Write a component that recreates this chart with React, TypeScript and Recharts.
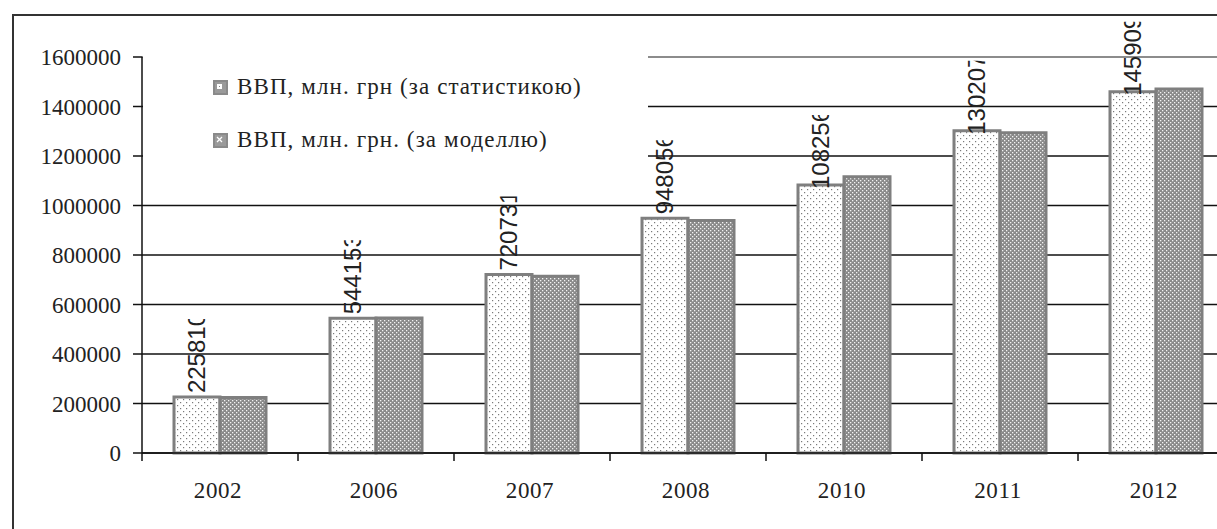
import React from 'react';
import { BarChart, Bar, XAxis, YAxis, CartesianGrid, Legend, LabelList, ReferenceLine } from 'recharts';

// years on the x axis
const years = ['2002', '2006', '2007', '2008', '2010', '2011', '2012'];
// ВВП за статистикою
const statValues = [225810, 544153, 720731, 948056, 1082569, 1302079, 1459096];
// ВВП за моделлю
const modelValues = [224000, 545000, 714000, 939000, 1116000, 1294000, 1471000];
const yTicks = [0, 200000, 400000, 600000, 800000, 1000000, 1200000, 1400000, 1600000];

const statName = 'ВВП, млн. грн (за статистикою)';
const modelName = 'ВВП, млн. грн. (за моделлю)';

const data = years.map((year, i) => ({ year, stat: statValues[i], model: modelValues[i] }));

const W = 1260;
const H = 529;
const LEFT = 142;
const RIGHT = 26;
const BAND = (W - LEFT - RIGHT) / years.length;
const SERIF = '"Liberation Serif", "Times New Roman", serif';

const StatLabel = (props: any) => {
  const { x, y, width, value, index } = props;
  const cx = x + width / 2;
  const digits = String(value).length;
  const y0 = y - 4 + (digits > 6 ? 8 : 0);
  const len = 74;
  const id = `lbl-clip-${index}`;
  return (
    <g clipPath={`url(#${id})`}>
      <defs>
        <clipPath id={id}>
          <rect x={cx - 16} y={y0 - len} width={32} height={len} />
        </clipPath>
      </defs>
      <text
        transform={`translate(${cx + 8},${y0}) rotate(-90)`}
        fontSize={24}
        fontFamily='"Liberation Sans", Arial, sans-serif'
        fill="#222"
      >
        {value}
      </text>
    </g>
  );
};

const YearTick = (props: any) => {
  const { x, y, payload } = props;
  const left = x - BAND / 2;
  return (
    <g>
      <line x1={left} y1={y - 8} x2={left} y2={y} stroke="#111" strokeWidth={1.5} />
      <text x={x - 2} y={y + 37} textAnchor="middle" fontSize={23} letterSpacing={0.6} fontFamily={SERIF} fill="#222">
        {payload.value}
      </text>
    </g>
  );
};

const LegendIcon = ({ fill }: { fill: string }) => (
  <svg width={15} height={15} style={{ display: 'block' }}>
    <rect x={1} y={1} width={13} height={13} fill={fill} stroke="#8a8a8a" strokeWidth={2} />
  </svg>
);

const renderLegend = () => (
  <div style={{ position: 'relative', width: '100%', height: '100%' }}>
    {[
      { name: statName, fill: 'url(#legStat)', top: 39 },
      { name: modelName, fill: 'url(#legModel)', top: 92 },
    ].map((item) => (
      <div
        key={item.name}
        style={{
          position: 'absolute',
          left: 70,
          top: item.top,
          transform: 'translateY(-50%)',
          display: 'flex',
          alignItems: 'center',
          whiteSpace: 'nowrap',
          fontFamily: SERIF,
          fontSize: 23,
          letterSpacing: 1.1,
          color: '#222',
        }}
      >
        <LegendIcon fill={item.fill} />
        <span style={{ marginLeft: 9 }}>{item.name}</span>
      </div>
    ))}
  </div>
);

export default function App() {
  return (
    <div style={{ position: 'fixed', left: 0, top: 0, width: 1217, height: 529, overflow: 'hidden', background: '#fff' }}>
      <svg width={0} height={0} style={{ position: 'absolute' }}>
        <defs>
          <pattern id="legStat" width={13} height={13} patternUnits="userSpaceOnUse">
            <rect width={13} height={13} fill="#9a9a9a" />
            <rect x={4} y={4} width={5} height={5} fill="#fff" />
            <rect x={6} y={6} width={1} height={1} fill="#888" />
          </pattern>
          <pattern id="legModel" width={13} height={13} patternUnits="userSpaceOnUse">
            <rect width={13} height={13} fill="#9a9a9a" />
            <path d="M4 4 L9 9 M9 4 L4 9" stroke="#fff" strokeWidth={1.3} />
          </pattern>
        </defs>
      </svg>
      <BarChart
        width={W}
        height={H}
        data={data}
        margin={{ top: 57, right: RIGHT, bottom: 0, left: 0 }}
        barCategoryGap={32}
        barGap={0}
      >
        <defs>
          <pattern id="dotStat" width={6} height={6} patternUnits="userSpaceOnUse">
            <rect width={6} height={6} fill="#fff" />
            <rect x={0} y={0} width={1.2} height={1.2} fill="#7a7a7a" />
            <rect x={3} y={3} width={1.2} height={1.2} fill="#7a7a7a" />
          </pattern>
          <pattern id="dotModel" width={4} height={4} patternUnits="userSpaceOnUse">
            <rect width={4} height={4} fill="#8a8a8a" />
            <rect x={0} y={0} width={1.3} height={1.3} fill="#f4f4f4" />
            <rect x={2} y={2} width={1.3} height={1.3} fill="#f4f4f4" />
          </pattern>
        </defs>
        <CartesianGrid vertical={false} stroke="#111" strokeWidth={1.5} />
        <ReferenceLine y={1600000} stroke="#8c8c8c" strokeWidth={2} />
        <XAxis
          dataKey="year"
          height={76}
          axisLine={{ stroke: '#111', strokeWidth: 1.5 }}
          tickLine={false}
          tick={<YearTick />}
          interval={0}
        />
        <YAxis
          width={LEFT}
          domain={[0, 1600000]}
          ticks={yTicks}
          interval={0}
          axisLine={{ stroke: '#111', strokeWidth: 1.5 }}
          tickLine={{ stroke: '#111', strokeWidth: 1.5 }}
          tickSize={9}
          tickMargin={12}
          tick={{ fontSize: 23, fontFamily: SERIF, fill: '#222' }}
        />
        <Legend
          layout="vertical"
          align="center"
          verticalAlign="middle"
          content={renderLegend}
          wrapperStyle={{ position: 'absolute', top: 48, left: 143, width: 505, height: 114, background: '#fff' }}
        />
        <Bar dataKey="stat" name={statName} fill="url(#dotStat)" stroke="#7f7f7f" strokeWidth={3} isAnimationActive={false}>
          <LabelList dataKey="stat" content={<StatLabel />} />
        </Bar>
        <Bar dataKey="model" name={modelName} fill="url(#dotModel)" stroke="#7f7f7f" strokeWidth={3} isAnimationActive={false} />
      </BarChart>
      <div style={{ position: 'absolute', left: 12, top: 14, width: 1300, height: 2, background: '#333' }} />
      <div style={{ position: 'absolute', left: 12, top: 14, width: 2, height: 600, background: '#333' }} />
    </div>
  );
}
